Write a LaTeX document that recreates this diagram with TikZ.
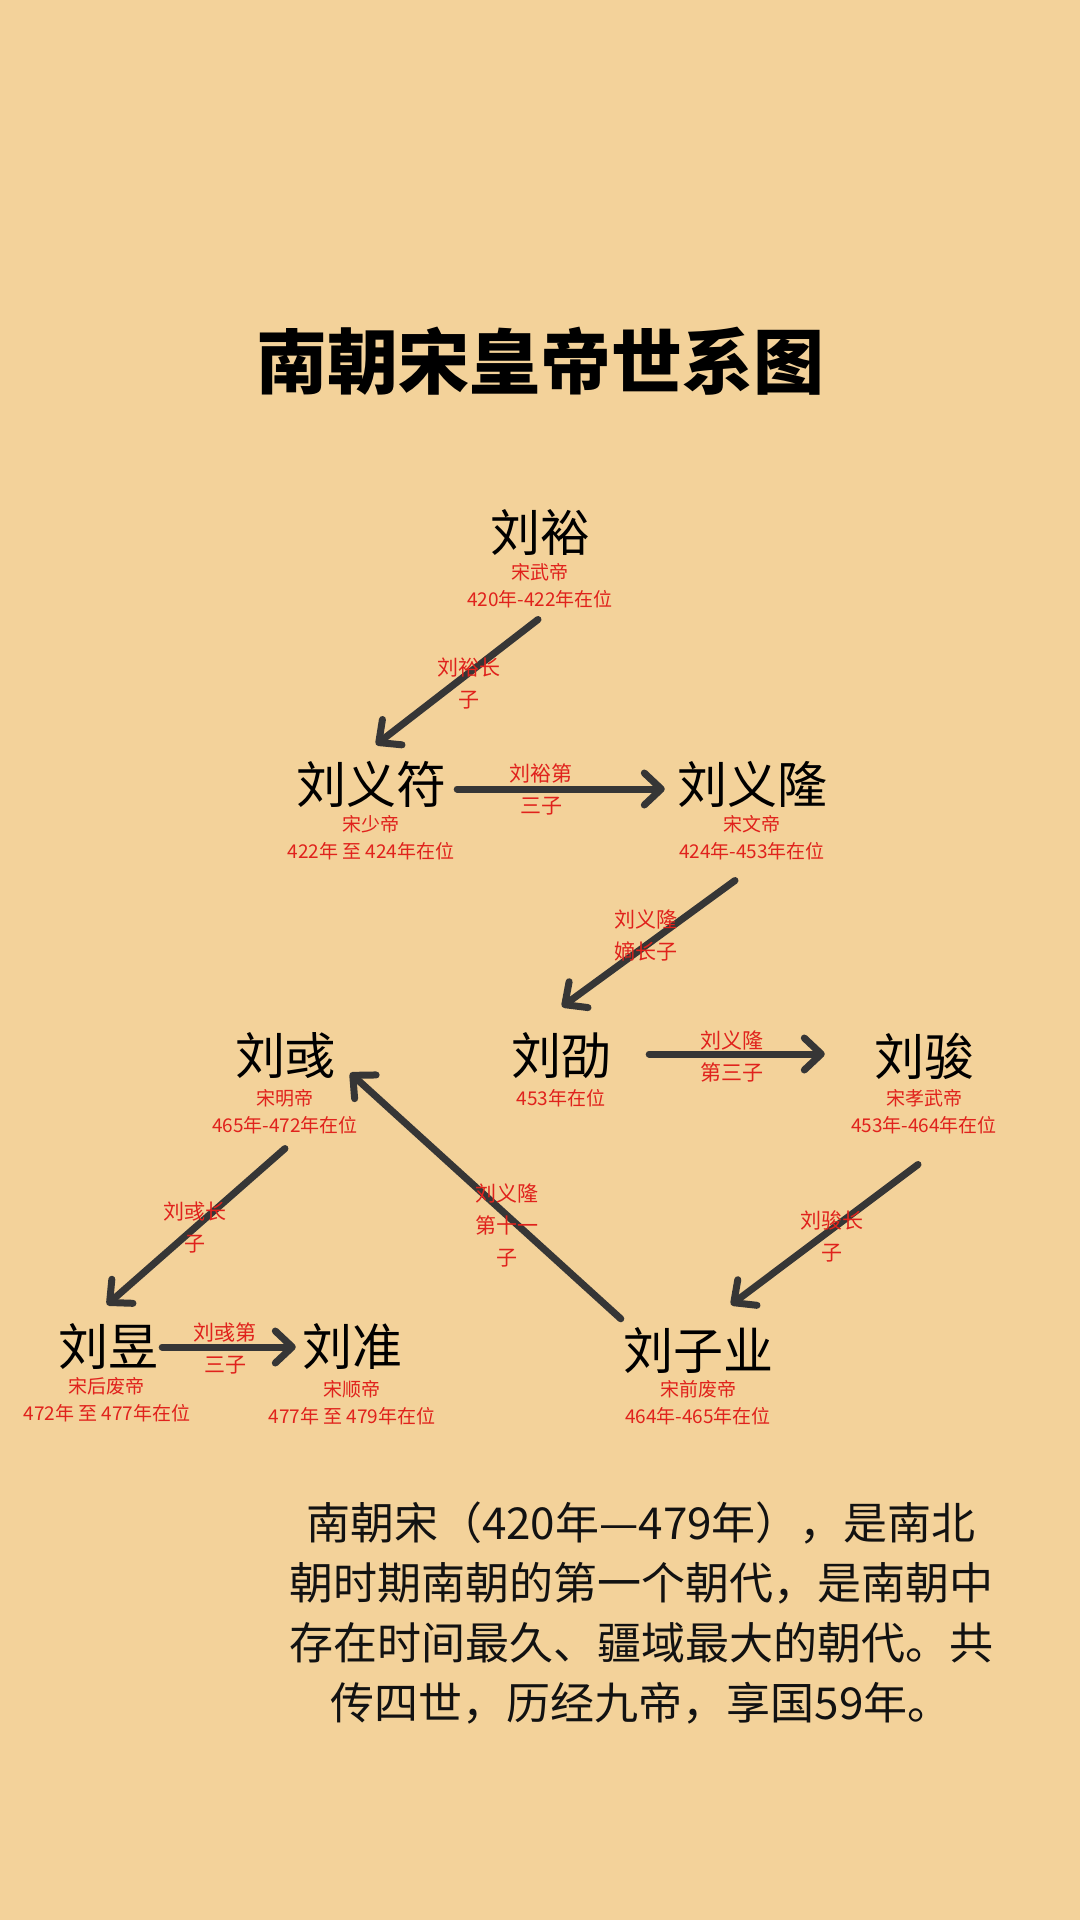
\documentclass[tikz,border=0pt]{standalone}
\usepackage{fontspec}
\setmainfont{Noto Sans CJK SC}
\usetikzlibrary{arrows.meta}
\definecolor{bg}{HTML}{F3D29A}
\definecolor{redtxt}{HTML}{E0221C}
\definecolor{arrowc}{HTML}{363636}
\tikzset{
  person/.style={font=\fontsize{50}{60}\selectfont, inner sep=0pt, text=black},
  info/.style={font=\fontsize{19}{27}\selectfont, text=redtxt, align=center, inner sep=0pt},
  rel/.style={font=\fontsize{21}{32}\selectfont, text=redtxt, align=center, inner sep=0pt},
  arr/.style={draw=arrowc, line width=7pt, line cap=round, line join=round,
    -{Straight Barb[length=17pt,width=32pt,round]}},
  titletext/.style={font=\fontsize{71}{80}\selectfont\bfseries, inner sep=0pt, text=black},
  bodytext/.style={font=\fontsize{44}{60}\selectfont, align=center, inner sep=0pt, text=black!93},
}
\begin{document}
\begin{tikzpicture}[x=1pt,y=-1pt]
\useasboundingbox (0,0) rectangle (1080,1920);
\fill[bg] (0,0) rectangle (1080,1920);

\node[titletext] (title) at (540,361) {南朝宋皇帝世系图};

% persons
\node[person] (yu) at (540,532) {刘裕};
\node[info] (yui) at (540,586) {宋武帝\\420年-422年在位};
\node[person] (yifu) at (371,784) {刘义符};
\node[info] (yifui) at (371,838) {宋少帝\\422年 至 424年在位};
\node[person] (yilong) at (752,784) {刘义隆};
\node[info] (yilongi) at (752,838) {宋文帝\\424年-453年在位};
\node[person] (shao) at (561,1056) {刘劭};
\node[info] (shaoi) at (561,1098) {453年在位};
\node[person] (jun) at (924,1056) {刘骏};
\node[info] (juni) at (924,1112) {宋孝武帝\\453年-464年在位};
\node[person] (yuu) at (285,1056) {刘彧};
\node[info] (yuui) at (285,1112) {宋明帝\\465年-472年在位};
\node[person] (ziye) at (698,1350) {刘子业};
\node[info] (ziyei) at (698,1403) {宋前废帝\\464年-465年在位};
\node[person] (yuo) at (108,1346) {刘昱};
\node[info] (yuoi) at (107,1400) {宋后废帝\\472年 至 477年在位};
\node[person] (zhun) at (352,1346) {刘准};
\node[info] (zhuni) at (352,1403) {宋顺帝\\477年 至 479年在位};

% connectors
\draw[arr] ([shift={(-2,11)}]yui.south) -- ([shift={(5,-16)}]yifu.north);
\draw[arr] ([shift={(11,5)}]yifu.east) -- ([shift={(-12,5)}]yilong.west);
\draw[arr] ([shift={(-17,20)}]yilongi.south) -- ([shift={(1,-26)}]shao.north);
\draw[arr] ([shift={(38,-2)}]shao.east) -- ([shift={(-49,-2)}]jun.west);
\draw[arr] ([shift={(-6,30)}]juni.south) -- ([shift={(33,-22)}]ziye.north);
\draw[arr] ([shift={(-2,-8)}]ziye.north west) -- ([shift={(15,17)}]yuu.east);
\draw[arr] ([shift={(0,14)}]yuui.south) -- ([shift={(-1,-18)}]yuo.north);
\draw[arr] ([shift={(4,1)}]yuo.east) -- ([shift={(-6,1)}]zhun.west);

% relation labels
\node[rel] (r1) at (469,683) {刘裕长\\子};
\node[rel] (r2) at (541,789) {刘裕第\\三子};
\node[rel] (r3) at (646,935) {刘义隆\\嫡长子};
\node[rel] (r4) at (732,1056) {刘义隆\\第三子};
\node[rel] (r5) at (832,1236) {刘骏长\\子};
\node[rel] (r6) at (507,1225) {刘义隆\\第十一\\子};
\node[rel] (r7) at (195,1228) {刘彧长\\子};
\node[rel] (r8) at (225,1348) {刘彧第\\三子};

\node[bodytext] (body) at (641,1613) {南朝宋（420年—479年），是南北\\朝时期南朝的第一个朝代，是南朝中\\存在时间最久、疆域最大的朝代。共\\传四世，历经九帝，享国59年。};
\end{tikzpicture}
\end{document}
